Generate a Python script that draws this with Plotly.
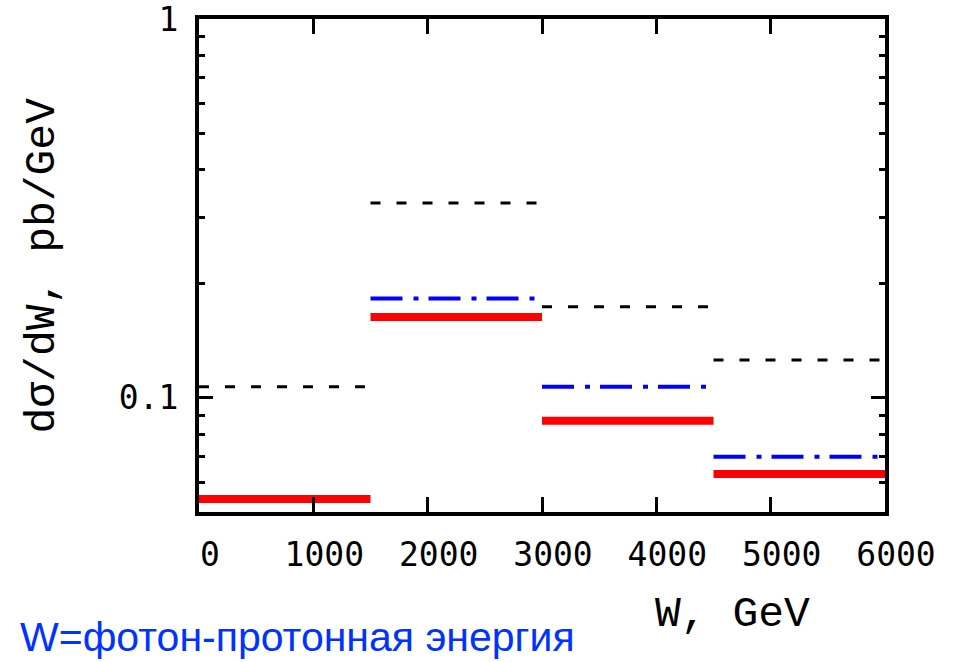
import plotly.graph_objects as go

# Bin edges in W (GeV)
bin_edges = [0, 1500, 3000, 4500, 6000]

# dσ/dW per bin, pb/GeV
black_dashed = [0.107, 0.327, 0.174, 0.126]
blue_dashdot = [None, 0.183, 0.107, 0.0699]
red_solid = [0.0541, 0.1636, 0.0870, 0.0630]

x_ticks = [0, 1000, 2000, 3000, 4000, 5000, 6000]
x_ticktext = ["0", "1000", "2000", "3000", "4000", "5000", "6000"]
y_ticks = [0.1, 1]
y_ticktext = ["0.1", "1"]
y_minor = [0.06, 0.07, 0.08, 0.09, 0.2, 0.3, 0.4, 0.5, 0.6, 0.7, 0.8, 0.9]


def steps(values):
    xs, ys = [], []
    for i, v in enumerate(values):
        if v is None:
            continue
        xs += [bin_edges[i], bin_edges[i + 1], None]
        ys += [v, v, None]
    return xs, ys


fig = go.Figure()

bx, by = steps(black_dashed)
fig.add_trace(go.Scatter(x=bx, y=by, mode="lines", connectgaps=False,
                         line=dict(color="black", width=3, dash="10px,16px"),
                         showlegend=False, hoverinfo="skip"))
ux, uy = steps(blue_dashdot)
fig.add_trace(go.Scatter(x=ux, y=uy, mode="lines", connectgaps=False,
                         line=dict(color="#0000ff", width=4, dash="32px,11px,5px,10px"),
                         showlegend=False, hoverinfo="skip"))
rx, ry = steps(red_solid)
fig.add_trace(go.Scatter(x=rx, y=ry, mode="lines", connectgaps=False,
                         line=dict(color="#ff0000", width=8),
                         showlegend=False, hoverinfo="skip"))

tick_font = dict(family="DejaVu Sans Mono", size=33, color="black")
title_font = dict(family="Liberation Mono", size=43, color="black")

fig.update_xaxes(
    range=[0, 6000], showgrid=False, zeroline=False, automargin=False,
    showline=True, linecolor="black", linewidth=4, mirror="allticks",
    ticks="inside", ticklen=15, tickwidth=3, tickcolor="black",
    tickmode="array", tickvals=x_ticks, ticktext=x_ticktext,
    tickfont=tick_font, ticklabelshift=11, ticklabelstandoff=10,
    ticklabeloverflow="allow",
)
fig.update_yaxes(
    type="log", range=[-1.30103, 0], showgrid=False, zeroline=False, automargin=False,
    showline=True, linecolor="black", linewidth=4, mirror="allticks",
    ticks="inside", ticklen=14, tickwidth=3, tickcolor="black",
    tickmode="array", tickvals=y_ticks, ticktext=y_ticktext,
    tickfont=tick_font, ticklabelstandoff=10, ticklabeloverflow="allow",
    minor=dict(tickmode="array", tickvals=y_minor, ticks="inside",
               ticklen=6, tickwidth=3, tickcolor="black"),
)

fig.update_layout(
    width=960, height=662,
    margin=dict(l=199, r=75, t=19, b=150),
    plot_bgcolor="white", paper_bgcolor="white",
    annotations=[
        dict(text="dσ/dW, pb/GeV", xref="paper", yref="paper",
             x=0, y=0.5, xshift=-157, textangle=-90, showarrow=False,
             font=title_font, xanchor="center", yanchor="middle"),
        dict(text="W, GeV", xref="paper", yref="paper",
             x=0, y=0, xshift=533, yshift=-102, showarrow=False,
             font=title_font, xanchor="center", yanchor="middle"),
        dict(text="W=фотон-протонная энергия", xref="paper", yref="paper",
             x=0, y=0, xshift=-181, yshift=-125, showarrow=False,
             font=dict(family="Liberation Sans", size=41, color="#0033ff"),
             xanchor="left", yanchor="middle"),
    ],
)

fig.write_html("out.html")
